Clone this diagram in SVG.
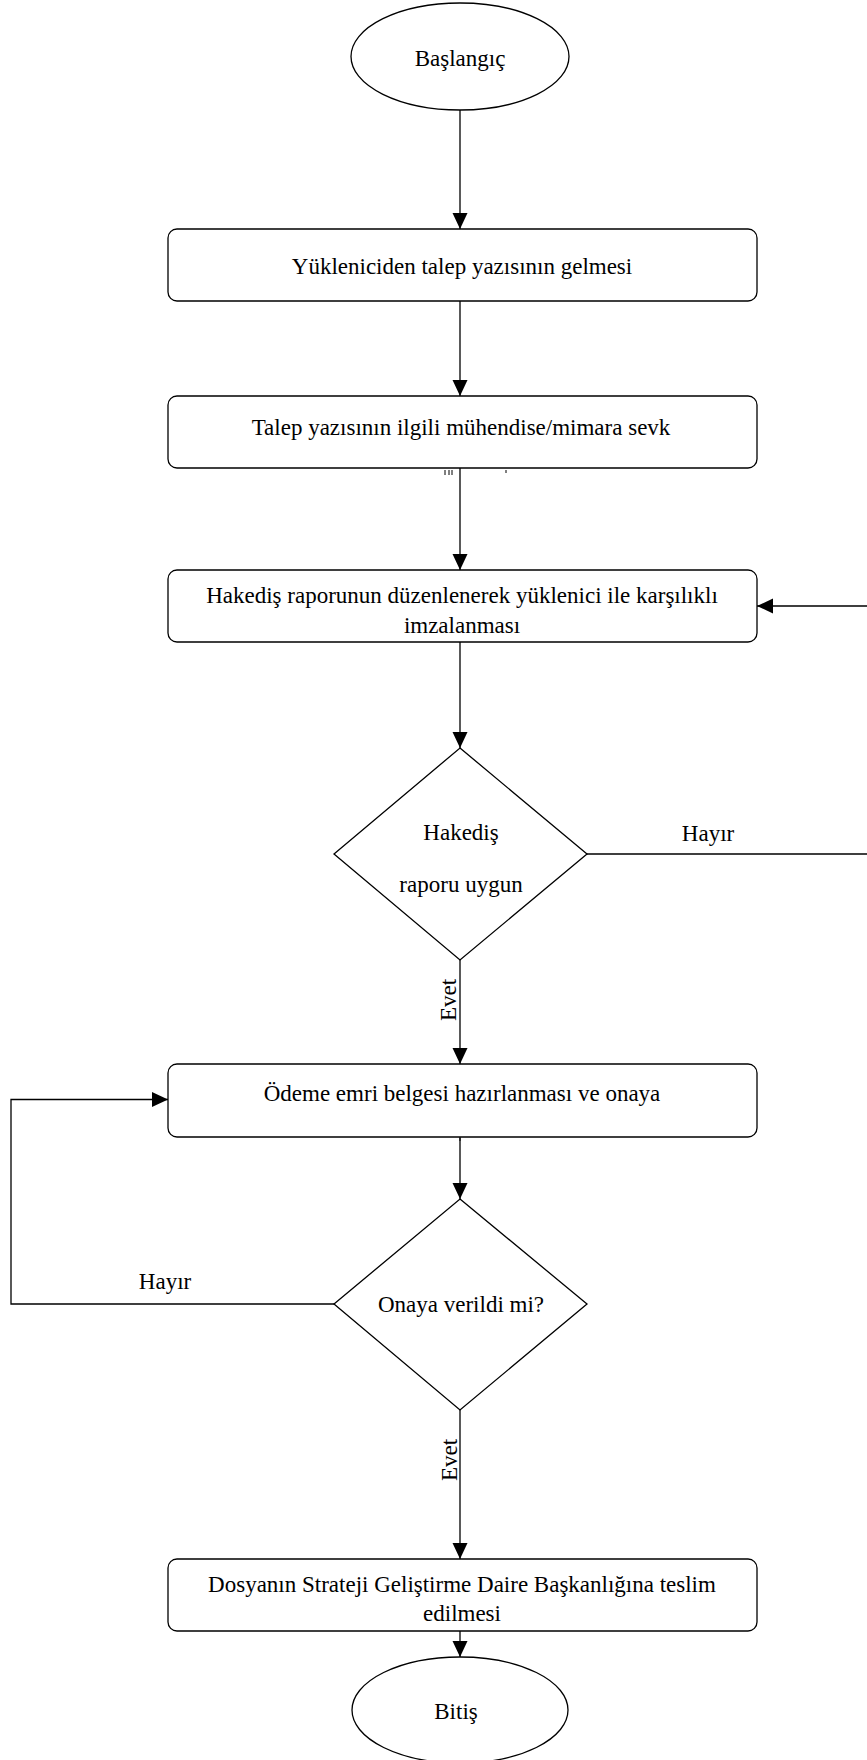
<svg xmlns="http://www.w3.org/2000/svg" width="867" height="1760" viewBox="0 0 867 1760">
<defs>
<marker id="arr" markerUnits="userSpaceOnUse" markerWidth="18" markerHeight="16" refX="16" refY="8" orient="auto">
<path d="M0,0.5 L16,8 L0,15.5 Z" fill="#000"/>
</marker>
<style>
.shape{fill:#fff;stroke:#000;stroke-width:1.3}
.conn{fill:none;stroke:#000;stroke-width:1.3}
.t{font-family:"Liberation Serif","Times New Roman",serif;font-size:23px;fill:#000;text-anchor:middle}
.frag{stroke:#000;stroke-width:1;fill:none}
</style>
</defs>
<rect width="867" height="1760" fill="#fff"/>
<g id="connectors">
<path class="conn" d="M460,110 V229" marker-end="url(#arr)"/>
<path class="conn" d="M460,301 V396" marker-end="url(#arr)"/>
<path class="conn" d="M460,468 V570" marker-end="url(#arr)"/>
<path class="conn" d="M460,642 V748" marker-end="url(#arr)"/>
<path class="conn" d="M460,960 V1064" marker-end="url(#arr)"/>
<path class="conn" d="M460,1137 V1199" marker-end="url(#arr)"/>
<path class="conn" d="M460,1410 V1559" marker-end="url(#arr)"/>
<path class="conn" d="M460,1631 V1657" marker-end="url(#arr)"/>
<path class="conn" d="M587,854 H875 V606 H757" marker-end="url(#arr)"/>
<path class="conn" d="M334,1304 H11 V1099.5 H168" marker-end="url(#arr)"/>
<text class="t" x="708" y="841">Hayır</text>
<text class="t" x="165" y="1289">Hayır</text>
<text class="t" transform="translate(456,1000) rotate(-90)">Evet</text>
<text class="t" transform="translate(457,1460) rotate(-90)">Evet</text>
</g>
<g id="start">
<ellipse class="shape" cx="460" cy="56.5" rx="109" ry="53.5"/>
<text class="t" x="460" y="66">Başlangıç</text>
</g>
<g id="step1">
<rect class="shape" x="168" y="229" width="589" height="72" rx="9"/>
<text class="t" x="462" y="274">Yükleniciden talep yazısının gelmesi</text>
</g>
<g id="step2">
<rect class="shape" x="168" y="396" width="589" height="72" rx="9"/>
<text class="t" x="461" y="435">Talep yazısının ilgili mühendise/mimara sevk</text>
<path class="frag" d="M445,470 v5 M449,470 v5 M452,470 v5 M506,470 v3"/>
</g>
<g id="step3">
<rect class="shape" x="168" y="570" width="589" height="72" rx="9"/>
<text class="t" x="462" y="603">Hakediş raporunun düzenlenerek yüklenici ile karşılıklı</text>
<text class="t" x="462" y="633">imzalanması</text>
</g>
<g id="decision1">
<polygon class="shape" points="460,748 587,854 460,960 334,854"/>
<text class="t" x="461" y="840">Hakediş</text>
<text class="t" x="461" y="892">raporu uygun</text>
</g>
<g id="step4">
<rect class="shape" x="168" y="1064" width="589" height="73" rx="9"/>
<text class="t" x="462" y="1101">Ödeme emri belgesi hazırlanması ve onaya</text>
<path class="frag" d="M460,1138 v3"/>
</g>
<g id="decision2">
<polygon class="shape" points="460,1199 587,1304 460,1410 334,1304"/>
<text class="t" x="461" y="1312">Onaya verildi mi?</text>
</g>
<g id="step5">
<rect class="shape" x="168" y="1559" width="589" height="72" rx="9"/>
<text class="t" x="462" y="1592">Dosyanın Strateji Geliştirme Daire Başkanlığına teslim</text>
<text class="t" x="462" y="1621">edilmesi</text>
</g>
<g id="end">
<ellipse class="shape" cx="460" cy="1710" rx="108" ry="53"/>
<text class="t" x="456" y="1719">Bitiş</text>
</g>
</svg>
